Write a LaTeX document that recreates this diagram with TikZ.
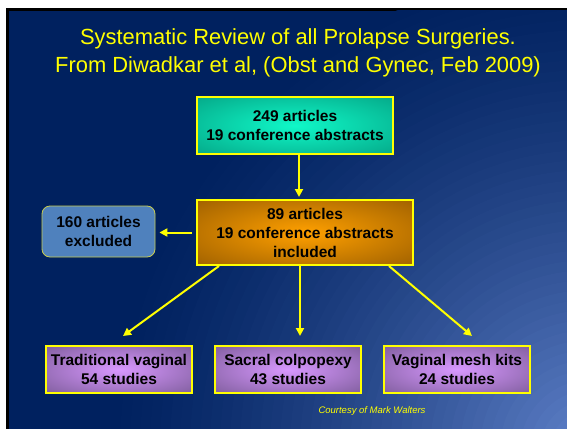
\documentclass[tikz,border=0pt]{standalone}
\usepackage{fontspec}
\setmainfont{Liberation Sans}
\usetikzlibrary{arrows.meta}
\definecolor{navy}{HTML}{00215F}
\definecolor{slidelight}{HTML}{5E80C8}
\definecolor{tealC}{HTML}{10F8C8}
\definecolor{tealE}{HTML}{008A70}
\definecolor{tealK}{HTML}{006A58}
\definecolor{orC}{HTML}{FFA000}
\definecolor{orE}{HTML}{7A4800}
\definecolor{orK}{HTML}{643A00}
\definecolor{puC}{HTML}{D898FF}
\definecolor{puE}{HTML}{5E4878}
\definecolor{puK}{HTML}{503C68}
\definecolor{exfill}{HTML}{4F81BD}
\definecolor{exdraw}{HTML}{C8CC50}
\definecolor{ylw}{HTML}{FFFF00}
\pgfdeclareradialshading{tealglow}{\pgfpoint{0bp}{0bp}}{color(0bp)=(tealC); color(50bp)=(tealE); color(71bp)=(tealK)}
\pgfdeclareradialshading{orglow}{\pgfpoint{0bp}{0bp}}{color(0bp)=(orC); color(50bp)=(orE); color(71bp)=(orK)}
\pgfdeclareradialshading{puglow}{\pgfpoint{0bp}{0bp}}{color(0bp)=(puC); color(50bp)=(puE); color(71bp)=(puK)}
\tikzset{
  boxfont/.style={font=\fontsize{15.5}{19}\selectfont\bfseries},
  box/.style={draw=ylw, line width=2pt, align=center, inner sep=0pt, boxfont, text=black},
  tealbox/.style={box, shading=tealglow},
  orbox/.style={box, shading=orglow},
  pubox/.style={box, shading=puglow, minimum width=146pt, minimum height=47pt},
  exbox/.style={draw=exdraw, line width=0.8pt, fill=exfill, rounded corners=8pt,
    align=center, inner sep=0pt, minimum width=113pt, minimum height=51pt,
    boxfont, text=black!90!navy},
  arr/.style={draw=ylw, line width=2pt, -{Triangle[length=8pt,width=8pt]}},
  titletext/.style={text=ylw, font=\fontsize{21.9}{27}\selectfont, anchor=base, inner sep=0pt}
}
\begin{document}
\begin{tikzpicture}[x=1pt,y=-1pt]
\useasboundingbox (0,0) rectangle (567,428);
\fill[white] (-2,-2) rectangle (570,431);
\fill[black] (6,8) rectangle (570,431);
\fill[navy] (9,11) rectangle (570,431);
\begin{scope}
  \clip (9,11) rectangle (570,431);
  \foreach \i in {0,...,47} {
    \pgfmathsetmacro{\rad}{480-10*\i}
    \pgfmathsetmacro{\mix}{100*(\i/47)^1.3}
    \fill[slidelight!\mix!navy] (590,450) circle (\rad);
  }
\end{scope}

\node[titletext] (t1) at (298,45) {Systematic Review of all Prolapse Surgeries.};
\node[titletext] (t2) at (298,72) {From Diwadkar et al, (Obst and Gynec, Feb 2009)};

\node[tealbox, minimum width=196pt, minimum height=57pt] (b1) at (295,125.5)
  {249 articles\\19 conference abstracts};
\node[orbox, minimum width=216pt, minimum height=65pt] (b2) at (305,232.5)
  {89 articles\\19 conference abstracts\\included};
\node[exbox] (ex) at (98.5,231.5) {160 articles\\excluded};

\node[pubox] (l) at (119,369.5) {Traditional vaginal\\54 studies};
\node[pubox] (m) at (288,369.5) {Sacral colpopexy\\43 studies};
\node[pubox] (r) at (457,369.5) {Vaginal mesh kits\\24 studies};

\draw[arr] ([xshift=4pt]b1.south) -- ([xshift=-6pt,yshift=2pt]b2.north);
\draw[arr] ([xshift=-4pt]b2.west) -- ([xshift=4pt,yshift=-1pt]ex.east);
\draw[arr] ([xshift=23pt]b2.south west) -- ([xshift=4pt,yshift=9pt]l.north);
\draw[arr] ([xshift=-5pt]b2.south) -- ([xshift=12pt,yshift=9pt]m.north);
\draw[arr] ([xshift=-25pt]b2.south east) -- ([xshift=15pt,yshift=9pt]r.north);

\node[text=ylw, font=\fontsize{9.5}{11}\selectfont\itshape, inner sep=0pt] (c) at (372,411) {Courtesy of Mark Walters};
\end{tikzpicture}
\end{document}
